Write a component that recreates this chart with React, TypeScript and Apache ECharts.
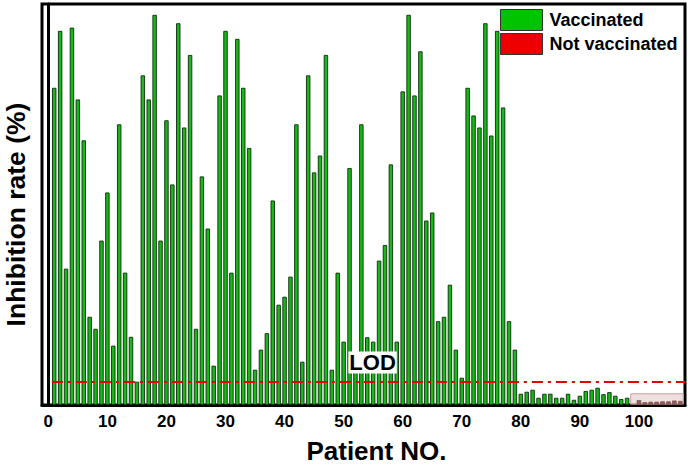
import React, { useEffect, useRef } from "react";
import * as echarts from "echarts";

// Inhibition rate (%) of vaccinated patients, patient NO. 1..98
const VAC_RATES = [
  79.1, 93.3, 34, 94.1, 76.2, 66, 22, 19, 41, 53,
  14.8, 70, 33, 17, 5.8, 82.2, 76.2, 97.3, 41, 71,
  55, 95.2, 69.2, 87.3, 19, 57, 44, 9.8, 77.2, 93.3,
  33, 91.3, 79.1, 64.1, 8.8, 13.8, 17.9, 51, 25, 27,
  32, 70, 10.8, 82.2, 58, 62.2, 87.3, 8.8, 33, 15.8,
  59.1, 11, 70, 16.9, 15.8, 36, 39.9, 60, 15.8, 78.2,
  97.3, 77.2, 88.2, 46, 48, 20.9, 22, 30, 13.8, 6.8,
  79.1, 72.2, 69.2, 95.2, 67.2, 93.3, 74.2, 20.9, 13.8, 2.8,
  3.3, 3.8, 1.8, 2.8, 2.8, 1.8, 1.8, 2.8, 1.3, 2.3,
  3.5, 3.8, 4.3, 2.7, 3.2, 2.3, 1.5, 1.8,
];
const VAC_FIRST_NO = 1;

// Not vaccinated patients, patient NO. 100..107
const NOT_VAC_RATES = [1.2, 0.7, 0.8, 0.8, 0.9, 0.9, 1.1, 1.0];
const NOT_VAC_FIRST_NO = 100;

const LOD = 5.75;
const LOD_LINE_X = [0.6, 107.8];
const LOD_LABEL_AT = [54.9, 10.6];
const NOT_VAC_BOX_X = [98.6, 107.5];
const NOT_VAC_BOX_Y = [0.2, 2.8];

const X_MIN = -1.07;
const X_MAX = 107.8;
const Y_MIN = 0;
const Y_MAX = 100;

const FONT = "'Liberation Sans', Arial, Helvetica, sans-serif";

export default function App() {
  const ref = useRef<HTMLDivElement>(null);

  useEffect(() => {
    if (!ref.current) return;
    const chart = echarts.init(ref.current, undefined, { renderer: "svg" });

    const vacData = VAC_RATES.map((v, i) => [VAC_FIRST_NO + i, v]);
    const notVacData = NOT_VAC_RATES.map((v, i) => [NOT_VAC_FIRST_NO + i, v]);

    chart.setOption({
      animation: false,
      backgroundColor: "#ffffff",
      textStyle: { fontFamily: FONT },
      grid: {
        left: 42,
        right: 3,
        top: 4,
        bottom: 62,
        containLabel: false,
        outerBoundsMode: "none",
        show: true,
        borderColor: "#000",
        borderWidth: 3,
        backgroundColor: "transparent",
      },
      legend: {
        orient: "vertical",
        left: 495,
        top: 4,
        itemWidth: 42,
        itemHeight: 21,
        itemGap: 2,
        icon: "rect",
        textStyle: {
          fontFamily: FONT,
          fontWeight: "bold",
          fontSize: 18,
          color: "#000",
          padding: [0, 0, 0, 2],
        },
        data: [
          {
            name: "Vaccinated",
            itemStyle: { color: "#00c400", borderColor: "#333", borderWidth: 1 },
          },
          {
            name: "Not vaccinated",
            itemStyle: { color: "#ee0000", borderColor: "#333", borderWidth: 1 },
          },
        ],
      },
      xAxis: {
        type: "value",
        min: X_MIN,
        max: X_MAX,
        splitNumber: 11,
        name: "Patient NO.",
        nameLocation: "middle",
        nameGap: 33,
        nameTextStyle: {
          fontFamily: FONT,
          fontWeight: "bold",
          fontSize: 26,
          color: "#000",
          padding: [0, 0, 0, 26],
        },
        axisLine: { show: true, lineStyle: { color: "#000", width: 3 } },
        axisTick: {
          show: true,
          inside: true,
          length: 4,
          lineStyle: { color: "#000", width: 2 },
        },
        minorTick: {
          show: true,
          splitNumber: 2,
          length: 2,
          lineStyle: { color: "#000", width: 2 },
        },
        splitLine: { show: false },
        axisLabel: {
          margin: 8,
          fontFamily: FONT,
          fontWeight: "bold",
          fontSize: 17,
          color: "#000",
          showMinLabel: true,
          showMaxLabel: true,
          formatter: (v: number) =>
            Math.abs(v - Math.round(v / 10) * 10) < 1e-6 ? String(Math.round(v)) : "",
        },
      },
      yAxis: {
        type: "value",
        min: Y_MIN,
        max: Y_MAX,
        name: "Inhibition rate (%)",
        nameLocation: "middle",
        nameGap: 14,
        nameRotate: 90,
        nameTextStyle: {
          fontFamily: FONT,
          fontWeight: "bold",
          fontSize: 26.5,
          lineHeight: 24,
          color: "#000",
          padding: [0, 20, 0, 0],
        },
        axisLine: { show: true, lineStyle: { color: "#000", width: 3 } },
        axisTick: { show: false },
        axisLabel: { show: false },
        splitLine: { show: false },
      },
      series: [
        {
          name: "Vaccinated",
          type: "bar",
          data: vacData,
          barWidth: 4.4,
          barGap: "-100%",
          itemStyle: { color: "#18b818", borderColor: "#0b2e0b", borderWidth: 0.9 },
          markLine: {
            silent: true,
            symbol: ["none", "none"],
            label: { show: false },
            lineStyle: { color: "#e60000", width: 2, type: [11, 5, 3, 5] },
            data: [
              [
                { coord: [LOD_LINE_X[0], LOD] },
                { coord: [LOD_LINE_X[1], LOD] },
              ],
            ],
          },
          markPoint: {
            silent: true,
            symbol: "circle",
            symbolSize: 1,
            itemStyle: { color: "rgba(0,0,0,0)" },
            label: {
              show: true,
              position: "inside",
              formatter: "LOD",
              fontFamily: FONT,
              fontWeight: "bold",
              fontSize: 22,
              color: "#000",
              backgroundColor: "#fff",
              padding: [0, 1],
            },
            data: [{ coord: LOD_LABEL_AT }],
          },
        },
        {
          name: "Not vaccinated",
          type: "bar",
          data: notVacData,
          barWidth: 4.4,
          barGap: "-100%",
          itemStyle: { color: "#9a5a5a", borderColor: "#6a4444", borderWidth: 0.6 },
          markArea: {
            silent: true,
            itemStyle: {
              color: "rgba(228,196,196,0.55)",
              borderColor: "#c9a2a2",
              borderWidth: 1,
            },
            data: [
              [
                { coord: [NOT_VAC_BOX_X[0], NOT_VAC_BOX_Y[0]] },
                { coord: [NOT_VAC_BOX_X[1], NOT_VAC_BOX_Y[1]] },
              ],
            ],
          },
        },
      ],
    });

    return () => chart.dispose();
  }, []);

  return (
    <div
      ref={ref}
      style={{
        position: "absolute",
        left: 0,
        top: 0,
        width: 688,
        height: 467,
        background: "#fff",
      }}
    />
  );
}
